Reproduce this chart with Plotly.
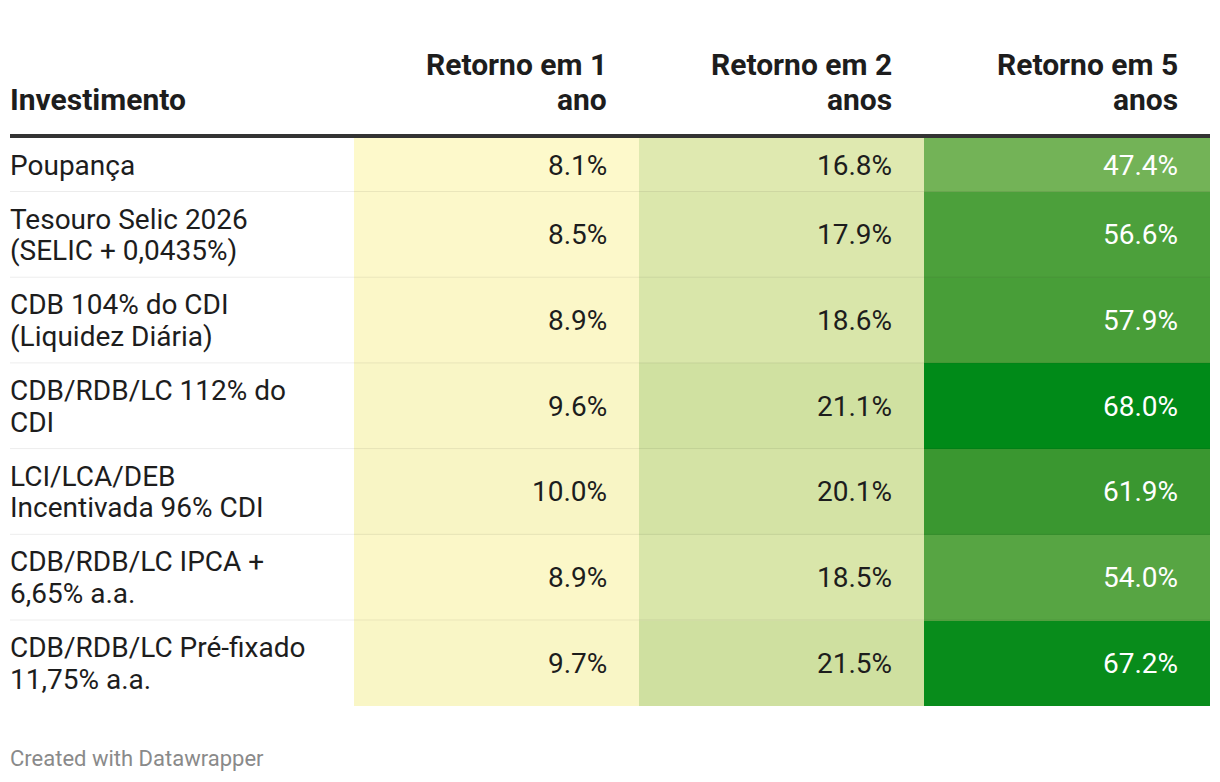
import plotly.graph_objects as go

# ---- data ---------------------------------------------------------------
investimentos = [
    "Poupança",
    "Tesouro Selic 2026<br>(SELIC + 0,0435%)",
    "CDB 104% do CDI<br>(Liquidez Diária)",
    "CDB/RDB/LC 112% do<br>CDI",
    "LCI/LCA/DEB<br>Incentivada 96% CDI",
    "CDB/RDB/LC IPCA +<br>6,65% a.a.",
    "CDB/RDB/LC Pré-fixado<br>11,75% a.a.",
]
retorno_1 = [8.1, 8.5, 8.9, 9.6, 10.0, 8.9, 9.7]
retorno_2 = [16.8, 17.9, 18.6, 21.1, 20.1, 18.5, 21.5]
retorno_5 = [47.4, 56.6, 57.9, 68.0, 61.9, 54.0, 67.2]
headers = ["Investimento", "Retorno em 1<br>ano", "Retorno em 2<br>anos", "Retorno em 5<br>anos"]

# ---- layout constants (pixels) ------------------------------------------
W, H = 1220, 782
OFF = 8  # default page margin around the plot div
TABLE_LEFT = 10
COL_WIDTHS = [344, 285, 285, 286]
BODY_TOP = 138
LINE_H = 31.7
ROW_PAD = 22.3
HEAD_LINE_H = 35
RIGHT_PAD = 32
FONT = "Roboto"
TEXT = "#1d1d1d"
BODY_SIZE = 28
HEAD_SIZE = 30

# colour scale (value -> colour)
scale_vals = [8.1, 10.0, 16.8, 21.5, 47.4, 56.6, 61.9, 68.0]
scale_cols = ["#fdf9cb", "#f8f5c5", "#dfe9b0", "#cfe0a0", "#73b357", "#4ca03b", "#3a9730", "#008a18"]
zmin, zmax = scale_vals[0], scale_vals[-1]
colorscale = [[(v - zmin) / (zmax - zmin), c] for v, c in zip(scale_vals, scale_cols)]

col_edges = [TABLE_LEFT]
for w in COL_WIDTHS:
    col_edges.append(col_edges[-1] + w)

row_edges = [BODY_TOP]
for lab in investimentos:
    row_edges.append(row_edges[-1] + ROW_PAD + LINE_H * (lab.count("<br>") + 1))

columns = [retorno_1, retorno_2, retorno_5]
z = [[columns[j][i] for j in range(3)] for i in range(len(investimentos))]

fig = go.Figure(
    go.Heatmap(
        x=col_edges[1:],
        y=row_edges,
        z=z,
        zmin=zmin,
        zmax=zmax,
        colorscale=colorscale,
        showscale=False,
        hoverinfo="skip",
    )
)

# row separators and header rule
for y in row_edges[1:-1]:
    fig.add_shape(type="line", x0=col_edges[0], x1=col_edges[-1], y0=y - 0.5, y1=y - 0.5,
                  line=dict(color="rgba(0,0,0,0.075)", width=1))
fig.add_shape(type="line", x0=col_edges[0], x1=col_edges[-1], y0=BODY_TOP - 2, y1=BODY_TOP - 2,
              line=dict(color="#333333", width=4))


def add_lines(x, y_center, text, anchor, size, color, weight="normal", line_h=LINE_H):
    # one annotation per line so the line spacing matches the reference
    parts = text.split("<br>")
    first = y_center - line_h * (len(parts) - 1) / 2
    for n, part in enumerate(parts):
        fig.add_annotation(x=x, y=first + n * line_h, text=part, xanchor=anchor, yanchor="middle",
                           showarrow=False, xshift=-2 if anchor == "left" else 2,
                           font=dict(family=FONT, size=size, color=color, weight=weight))


# body text
for i, lab in enumerate(investimentos):
    yc = (row_edges[i] + row_edges[i + 1]) / 2
    add_lines(col_edges[0], yc, lab, "left", BODY_SIZE, TEXT)
    for j in range(3):
        v = columns[j][i]
        add_lines(col_edges[j + 2] - RIGHT_PAD, yc, f"{v:.1f}%", "right", BODY_SIZE,
                  "white" if v > 40 else TEXT)

# header text: bottom line sits at the same height in every column
HEAD_LAST = 99
for k, h in enumerate(headers):
    n = h.count("<br>")
    yc = HEAD_LAST - HEAD_LINE_H * n / 2
    if k == 0:
        add_lines(col_edges[0], yc, h, "left", HEAD_SIZE, TEXT, "bold", HEAD_LINE_H)
    else:
        add_lines(col_edges[k + 1] - RIGHT_PAD, yc, h, "right", HEAD_SIZE, TEXT, "bold", HEAD_LINE_H)

# footer
fig.add_annotation(x=col_edges[0], y=758, text="Created with Datawrapper", xanchor="left", xshift=-2,
                   yanchor="middle", showarrow=False, font=dict(family=FONT, size=22, color="#8a8a8a"))

fig.update_layout(
    width=W,
    height=H,
    margin=dict(l=0, r=0, t=0, b=0),
    paper_bgcolor="white",
    plot_bgcolor="white",
    xaxis=dict(range=[OFF, W + OFF], visible=False, fixedrange=True),
    yaxis=dict(range=[H + OFF, OFF], visible=False, fixedrange=True),
    showlegend=False,
)

fig.write_html("out.html", config={"displayModeBar": False})
